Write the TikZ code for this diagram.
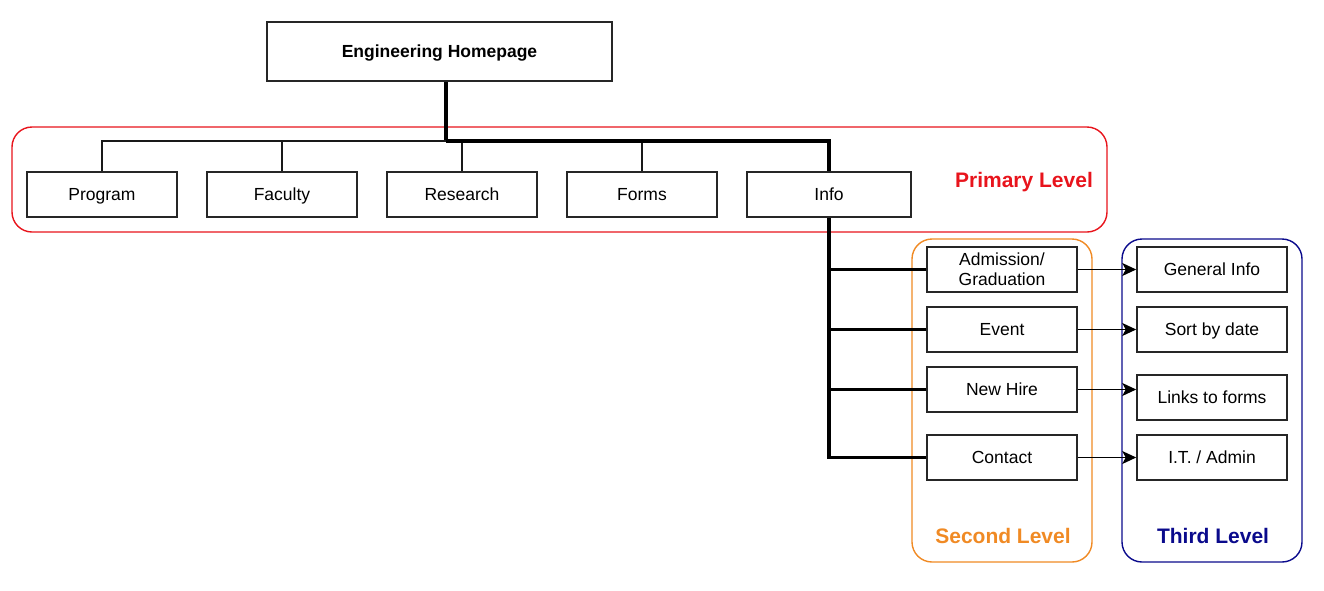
\documentclass[tikz,border=0pt]{standalone}
\usepackage{fontspec}
\setmainfont{Liberation Sans}
\usetikzlibrary{arrows.meta}
\definecolor{redlvl}{HTML}{E8141C}
\definecolor{orangelvl}{HTML}{F08A24}
\definecolor{navylvl}{HTML}{0A0A8C}
\tikzset{
  box/.style={draw=black!85, line width=1.6pt, minimum width=150pt, minimum height=45pt,
    inner sep=0pt, text height=12.6pt, text depth=0pt,
    font=\fontsize{17.5}{20}\selectfont, align=center},
  twoline/.style={text height=, text depth=},
  thinline/.style={line width=1.6pt, black!90},
  thickline/.style={line width=3.3pt, black},
  arrowline/.style={line width=1.4pt, black, -{Stealth[length=14pt,width=13pt,inset=3.5pt]}},
  frame/.style={line width=1.4pt, rounded corners=20pt},
  lvl/.style={font=\fontsize{21}{24}\selectfont\bfseries}
}
\begin{document}
\begin{tikzpicture}[x=1pt,y=-1pt]
\useasboundingbox (0,0) rectangle (1324,590);
% frames
\draw[frame, redlvl] (12,127) rectangle (1107,232);
\draw[frame, orangelvl] (912,239) rectangle (1092,562);
\draw[frame, navylvl] (1122,239) rectangle (1302,562);
\node[lvl, text=redlvl] (plab) at (1024,182.5) {Primary Level};
\node[lvl, text=orangelvl] (slab) at (1003,535.5) {Second Level};
\node[lvl, text=navylvl] (tlab) at (1213,535.5) {Third Level};
% top
\node[box, minimum width=345pt, minimum height=59pt, font=\fontsize{17.5}{20}\selectfont\bfseries] (home) at (439.5,51.5) {Engineering Homepage};
\coordinate (hb) at (446,141);
% primary
\node[box] (prog) at (102,194.5) {Program};
\node[box] (fac) at (282,194.5) {Faculty};
\node[box] (res) at (462,194.5) {Research};
\node[box] (forms) at (642,194.5) {Forms};
\node[box, minimum width=164pt] (info) at (829,194.5) {Info};
% second
\node[box, twoline] (adm) at (1002,269.5) {Admission/\\Graduation};
\node[box] (event) at (1002,329.5) {Event};
\node[box] (hire) at (1002,389.5) {New Hire};
\node[box] (con) at (1002,457.5) {Contact};
% third
\node[box] (gen) at (1212,269.5) {General Info};
\node[box] (sort) at (1212,329.5) {Sort by date};
\node[box] (links) at (1212,397.5) {Links to forms};
\node[box] (it) at (1212,457.5) {I.T. / Admin};
% connectors top
\draw[thickline] (home.south -| hb) -- (hb);
\draw[thinline] (prog.north) |- (hb);
\draw[thinline] (fac.north) -- (fac.north |- hb);
\draw[thinline] (res.north) -- (res.north |- hb);
\draw[thinline] (forms.north) -- (forms.north |- hb);
\draw[thickline] (hb) -| (info.north);
% info trunk
\draw[thickline] (info.south) -- (info.south |- con.west) -- (con.west);
\draw[thickline] (info.south |- adm.west) -- (adm.west);
\draw[thickline] (info.south |- event.west) -- (event.west);
\draw[thickline] (info.south |- hire.west) -- (hire.west);
% arrows
\draw[arrowline] (adm.east) -- (gen.west);
\draw[arrowline] (event.east) -- (sort.west);
\draw[arrowline] (hire.east) -- (hire.east -| links.west);
\draw[arrowline] (con.east) -- (it.west);
\end{tikzpicture}
\end{document}
